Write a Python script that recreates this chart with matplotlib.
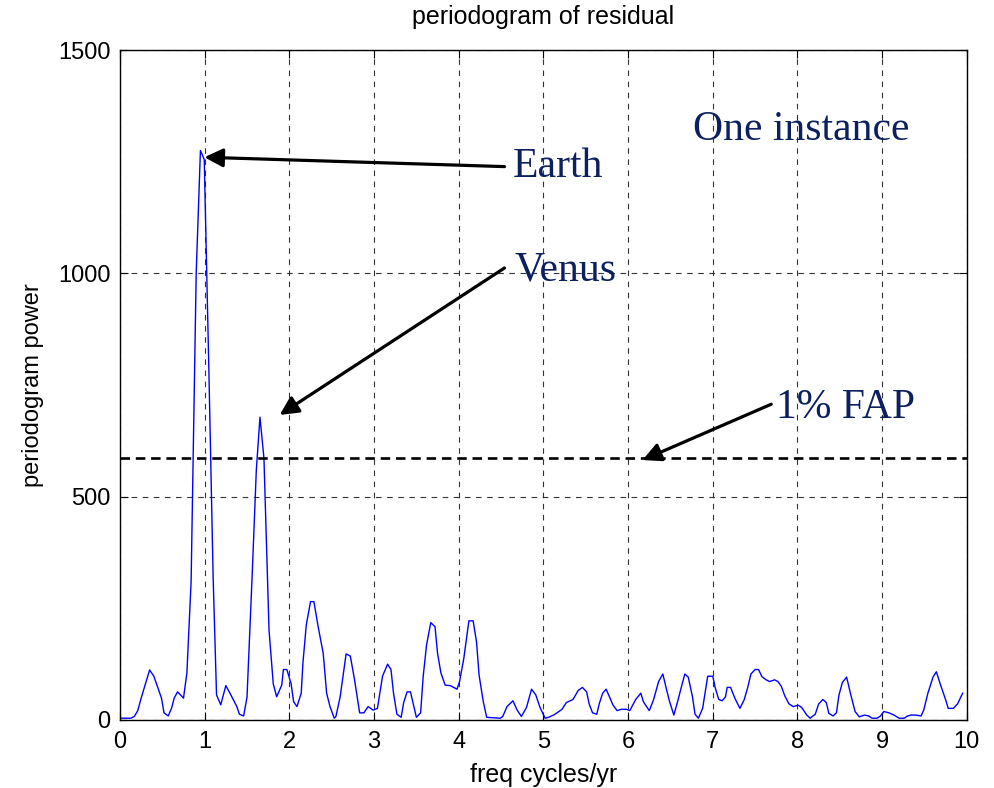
import matplotlib
matplotlib.use('Agg')
import matplotlib.pyplot as plt

# values
freq = [0.00, 0.13, 0.17, 0.21, 0.25, 0.35, 0.40, 0.45, 0.49, 0.52, 0.57, 0.61, 0.64, 0.68, 0.75,
        0.79, 0.84, 0.90, 0.95, 0.995, 1.05, 1.10, 1.14, 1.19, 1.25, 1.31, 1.38, 1.41, 1.46, 1.50,
        1.56, 1.61, 1.653, 1.70, 1.76, 1.81, 1.85, 1.91, 1.93, 1.97, 2.02, 2.05, 2.09, 2.14, 2.16,
        2.20, 2.25, 2.29, 2.34, 2.40, 2.44, 2.48, 2.53, 2.55, 2.60, 2.67, 2.72, 2.77, 2.83, 2.88,
        2.93, 2.99, 3.04, 3.10, 3.16, 3.20, 3.23, 3.27, 3.32, 3.35, 3.39, 3.43, 3.47, 3.50, 3.55,
        3.58, 3.62, 3.67, 3.72, 3.75, 3.79, 3.84, 3.90, 3.98, 4.01, 4.06, 4.12, 4.17, 4.21, 4.24,
        4.29, 4.33, 4.49, 4.52, 4.57, 4.64, 4.69, 4.74, 4.80, 4.86, 4.91, 4.96, 5.02, 5.06, 5.12,
        5.16, 5.22, 5.27, 5.35, 5.41, 5.46, 5.51, 5.54, 5.58, 5.63, 5.66, 5.70, 5.74, 5.78, 5.82,
        5.87, 5.92, 5.98, 6.02, 6.09, 6.15, 6.18, 6.25, 6.30, 6.36, 6.41, 6.45, 6.49, 6.54, 6.59,
        6.64, 6.67, 6.71, 6.76, 6.79, 6.83, 6.88, 6.94, 7.00, 7.03, 7.07, 7.11, 7.15, 7.17, 7.21,
        7.26, 7.32, 7.37, 7.41, 7.45, 7.50, 7.54, 7.58, 7.63, 7.67, 7.73, 7.77, 7.81, 7.85, 7.90,
        7.95, 8.01, 8.05, 8.11, 8.15, 8.21, 8.25, 8.30, 8.34, 8.37, 8.42, 8.46, 8.49, 8.53, 8.58,
        8.63, 8.68, 8.73, 8.79, 8.84, 8.88, 8.94, 8.98, 9.02, 9.08, 9.14, 9.20, 9.26, 9.30, 9.34,
        9.40, 9.46, 9.49, 9.54, 9.60, 9.64, 9.69, 9.75, 9.78, 9.84, 9.89, 9.95]
power = [4, 4, 8, 21, 49, 112, 98, 71, 49, 16, 9, 27, 49, 63, 49,
         105, 310, 1000, 1275, 1255, 780, 320, 56, 34, 77, 56, 30, 13, 9, 51,
         320, 560, 678, 586, 201, 81, 52, 78, 113, 113, 82, 41, 30, 60, 127,
         213, 265, 265, 209, 149, 60, 30, 4, 8, 52, 148, 143, 90, 16, 16,
         30, 22, 26, 98, 125, 113, 60, 13, 6, 39, 63, 63, 30, 6, 16,
         97, 168, 218, 209, 149, 105, 78, 77, 69, 86, 138, 222, 222, 175, 101,
         41, 6, 4, 8, 30, 43, 22, 8, 28, 69, 56, 28, 4, 6, 11,
         16, 24, 39, 46, 66, 73, 63, 36, 16, 13, 37, 60, 69, 52, 34,
         21, 24, 24, 21, 46, 60, 41, 21, 45, 86, 103, 71, 41, 11, 45,
         82, 103, 96, 52, 13, 4, 26, 98, 98, 71, 46, 43, 52, 73, 73,
         49, 26, 45, 71, 103, 113, 113, 97, 90, 86, 90, 86, 75, 54, 36,
         30, 33, 28, 11, 4, 13, 36, 46, 39, 15, 9, 16, 56, 84, 96,
         56, 19, 7, 11, 9, 4, 4, 9, 19, 16, 11, 4, 4, 9, 11,
         11, 9, 22, 60, 96, 108, 78, 45, 26, 26, 36, 60]
fap_level = 586

x_ticks = list(range(0, 11))
y_ticks = [0, 500, 1000, 1500]

navy = '#0c1f5e'

fig = plt.figure(figsize=(9.94, 7.88), dpi=100)
ax = fig.add_axes([0.1207, 0.0863, 0.852, 0.8502])

ax.plot(freq, power, color='#0000ff', lw=1.0)
ax.axhline(fap_level, color='k', lw=1.9, linestyle=(0, (3.6, 2.2)))

ax.set_xlim(0, 10)
ax.set_ylim(0, 1500)
ax.set_xticks(x_ticks)
ax.set_yticks(y_ticks)
ax.grid(True, color='#333333', lw=0.8, linestyle=(0, (5, 5)))
ax.tick_params(direction='in', length=6, width=0.8, top=True, right=True, labelsize=17)
ax.tick_params(axis='x', pad=8)
ax.tick_params(axis='y', pad=7)
for lab in ax.get_xticklabels() + ax.get_yticklabels():
    lab.set_family('Liberation Sans')
for s in ax.spines.values():
    s.set_linewidth(1.0)

ax.set_title('periodogram of residual', fontsize=18, family='Liberation Sans', pad=19)
ax.set_xlabel('freq cycles/yr', fontsize=18, family='Liberation Sans', labelpad=7)
ax.set_ylabel('periodogram power', fontsize=17, family='Liberation Sans', labelpad=10)

serif = dict(family='Liberation Serif', fontsize=30, color=navy, va='center')
ax.text(8.04, 1321, 'One instance', ha='center', **serif)
ax.text(4.64, 1239, 'Earth', ha='left', **serif)
ax.text(4.66, 1007, 'Venus', ha='left', **serif)
ax.text(7.75, 700, '1% FAP', ha='left', **serif)

arr = dict(arrowstyle='-|>', color='k', lw=2.3, mutation_scale=28, shrinkA=0, shrinkB=0)
ax.annotate('', xy=(0.996, 1260), xytext=(4.54, 1239), arrowprops=arr)
ax.annotate('', xy=(1.885, 683), xytext=(4.54, 1012), arrowprops=arr)
ax.annotate('', xy=(6.17, 582), xytext=(7.69, 707), arrowprops=arr)

fig.savefig('out.png', dpi=100)
